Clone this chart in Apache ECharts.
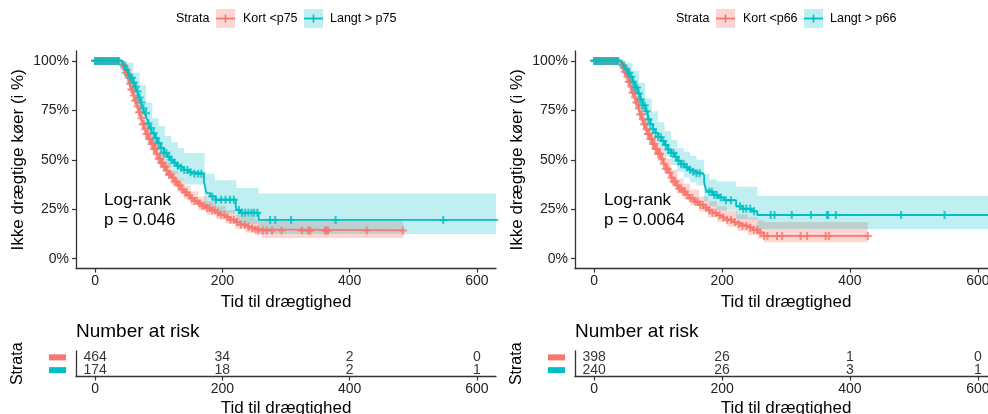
<!DOCTYPE html>
<html>
<head>
<meta charset="utf-8">
<script src="https://cdn.jsdelivr.net/npm/echarts@6/dist/echarts.min.js"></script>
<style>
  html, body { margin: 0; padding: 0; background: #fff; }
  #chart { width: 988px; height: 414px; }
</style>
</head>
<body>
<div id="chart"></div>
<script>
// ---- axis ticks ----
const xTicks = [0, 200, 400, 600];
const yTicks = [0, 0.25, 0.5, 0.75, 1];

// ---- Panel A: Kort <p75 / Langt > p75 (Kaplan-Meier steps) ----
const kort75Time = [0, 38, 42, 45, 48, 51, 54, 57, 60, 63,
  66, 69, 72, 75, 78, 81, 84, 88, 92, 96,
  100, 104, 108, 112, 116, 120, 125, 130, 135, 140,
  145, 150, 156, 162, 168, 175, 182, 189, 196, 204,
  212, 220, 228, 236, 244, 252, 262, 484];
const kort75Surv = [1, 0.995, 0.98, 0.965, 0.94, 0.915, 0.885, 0.855, 0.825, 0.8,
  0.77, 0.74, 0.71, 0.68, 0.655, 0.63, 0.605, 0.58, 0.555, 0.53,
  0.505, 0.485, 0.465, 0.445, 0.425, 0.41, 0.39, 0.37, 0.35, 0.335,
  0.32, 0.305, 0.292, 0.28, 0.268, 0.256, 0.245, 0.234, 0.222, 0.21,
  0.197, 0.185, 0.172, 0.162, 0.154, 0.148, 0.143, 0.143];
const kort75BandTime = [0, 40, 48, 56, 64, 72, 80, 90, 100, 110,
  120, 130, 140, 150, 162, 175, 190, 205, 220, 236,
  252, 262, 484];
const kort75Lower = [1, 0.975, 0.92, 0.84, 0.76, 0.68, 0.6, 0.535, 0.47, 0.42,
  0.375, 0.335, 0.3, 0.27, 0.245, 0.222, 0.2, 0.178, 0.152, 0.132,
  0.118, 0.105, 0.105];
const kort75Upper = [1, 1, 0.965, 0.89, 0.82, 0.745, 0.67, 0.6, 0.54, 0.49,
  0.445, 0.405, 0.37, 0.34, 0.315, 0.29, 0.268, 0.245, 0.225, 0.21,
  0.2, 0.19, 0.19];
const kort75Censor = [0, 2, 4, 6, 8, 10, 12, 14, 16, 18, 20, 22, 24, 26, 28, 30, 32, 34, 36,
  44, 46, 48, 50, 53, 55, 57, 59, 61, 63, 65, 67, 69, 71, 73, 75, 77, 79, 81, 83,
  85, 87, 89, 91, 93, 95, 97, 100, 102, 104, 106, 108, 110, 113, 116, 119, 122,
  125, 128, 131, 134, 137, 141, 144, 148, 152, 156, 160, 164, 168, 172, 176, 180,
  184, 188, 193, 198, 203, 208, 213, 218, 223, 229, 235, 241, 247, 252, 256,
  264, 270, 278, 293, 325, 335, 338, 361, 364, 366, 427, 484];

const langt75Time = [0, 42, 45, 48, 52, 55, 59, 63, 66, 69,
  72, 75, 78, 81, 84, 87, 90, 94, 98, 103,
  108, 113, 118, 123, 128, 134, 140, 148, 155, 171,
  173, 175, 181, 189, 221, 223, 228, 257, 640];
const langt75Surv = [1, 0.99, 0.975, 0.955, 0.93, 0.915, 0.89, 0.87, 0.845, 0.815,
  0.79, 0.76, 0.735, 0.71, 0.685, 0.66, 0.635, 0.61, 0.585, 0.56,
  0.535, 0.515, 0.5, 0.485, 0.47, 0.46, 0.448, 0.437, 0.43, 0.39,
  0.36, 0.332, 0.315, 0.298, 0.262, 0.246, 0.232, 0.196, 0.196];
const langt75BandTime = [0, 42, 50, 60, 70, 80, 90, 100, 110, 120,
  130, 140, 172, 188, 222, 257, 640];
const langt75Lower = [1, 0.97, 0.89, 0.82, 0.74, 0.66, 0.56, 0.5, 0.46, 0.43,
  0.4, 0.375, 0.26, 0.23, 0.175, 0.125, 0.125];
const langt75Upper = [1, 1, 0.99, 0.94, 0.88, 0.79, 0.71, 0.67, 0.62, 0.59,
  0.56, 0.535, 0.43, 0.397, 0.357, 0.33, 0.33];
const langt75Censor = [0, 3, 6, 9, 12, 15, 18, 21, 24, 27, 30, 33, 36, 38,
  46, 49, 52, 55, 58, 61, 64, 67, 70, 73, 76, 80, 84, 88, 92, 96, 100, 104, 108,
  112, 116, 120, 125, 130, 135, 140, 145, 150, 156, 162, 167, 184, 190, 198, 205,
  212, 218, 226, 231, 236, 241, 246, 250, 255,
  275, 283, 308, 378, 547];

// ---- Panel B: Kort <p66 / Langt > p66 ----
const kort66Time = [0, 38, 42, 45, 48, 51, 54, 57, 60, 63,
  66, 69, 72, 75, 78, 81, 84, 88, 92, 96,
  100, 104, 108, 112, 116, 120, 124, 128, 133, 138,
  144, 150, 157, 164, 171, 178, 185, 192, 200, 208,
  216, 224, 232, 240, 248, 256, 265, 428];
const kort66Surv = [1, 0.995, 0.98, 0.965, 0.945, 0.92, 0.895, 0.87, 0.84, 0.815,
  0.79, 0.76, 0.73, 0.705, 0.68, 0.655, 0.63, 0.605, 0.58, 0.555,
  0.53, 0.505, 0.48, 0.455, 0.435, 0.41, 0.39, 0.37, 0.355, 0.34,
  0.322, 0.305, 0.288, 0.272, 0.258, 0.245, 0.232, 0.22, 0.208, 0.197,
  0.186, 0.176, 0.166, 0.157, 0.146, 0.132, 0.115, 0.115];
const kort66BandTime = [0, 40, 48, 56, 64, 72, 80, 90, 100, 110,
  120, 130, 140, 150, 164, 178, 192, 208, 224, 240,
  256, 265, 428];
const kort66Lower = [1, 0.975, 0.91, 0.84, 0.77, 0.695, 0.63, 0.555, 0.49, 0.43,
  0.375, 0.33, 0.3, 0.27, 0.24, 0.21, 0.185, 0.162, 0.14, 0.12,
  0.1, 0.083, 0.083];
const kort66Upper = [1, 1, 0.97, 0.9, 0.83, 0.765, 0.7, 0.625, 0.565, 0.505,
  0.45, 0.405, 0.38, 0.35, 0.315, 0.29, 0.265, 0.243, 0.225, 0.208,
  0.195, 0.185, 0.185];
const kort66Censor = [0, 2, 4, 6, 8, 10, 12, 14, 16, 18, 20, 22, 24, 26, 28, 30, 32, 34, 36,
  44, 46, 48, 50, 52, 54, 56, 58, 60, 62, 64, 66, 68, 70, 72, 74, 76, 78, 80, 82,
  84, 86, 88, 90, 92, 94, 96, 98, 100, 103, 106, 109, 112, 115, 118, 121, 124,
  127, 130, 133, 136, 139, 142, 146, 150, 154, 158, 162, 166, 170, 175, 180, 185,
  190, 196, 202, 208, 214, 220, 226, 232, 238, 244, 250, 255, 260,
  266, 271, 286, 294, 323, 333, 362, 367, 428];

const langt66Time = [0, 42, 45, 48, 52, 56, 60, 64, 68, 72,
  76, 80, 84, 88, 92, 96, 100, 105, 110, 115,
  120, 125, 130, 136, 142, 148, 154, 160, 168, 172,
  175, 178, 186, 194, 203, 222, 232, 246, 255, 640];
const langt66Surv = [1, 0.99, 0.975, 0.96, 0.94, 0.92, 0.895, 0.865, 0.835, 0.805,
  0.775, 0.745, 0.705, 0.68, 0.655, 0.635, 0.615, 0.595, 0.575, 0.552,
  0.535, 0.515, 0.495, 0.478, 0.462, 0.45, 0.44, 0.432, 0.423, 0.385,
  0.345, 0.338, 0.322, 0.31, 0.296, 0.265, 0.252, 0.24, 0.221, 0.221];
const langt66BandTime = [0, 42, 50, 60, 70, 80, 90, 100, 110, 120,
  130, 140, 150, 160, 172, 180, 192, 222, 255, 640];
const langt66Lower = [1, 0.97, 0.905, 0.85, 0.78, 0.7, 0.63, 0.565, 0.515, 0.475,
  0.44, 0.41, 0.385, 0.37, 0.29, 0.265, 0.245, 0.2, 0.15, 0.15];
const langt66Upper = [1, 1, 0.99, 0.95, 0.89, 0.81, 0.745, 0.69, 0.645, 0.6,
  0.56, 0.54, 0.52, 0.5, 0.43, 0.4, 0.39, 0.364, 0.318, 0.318];
const langt66Censor = [0, 3, 6, 9, 12, 15, 18, 21, 24, 27, 30, 33, 36, 38,
  46, 49, 52, 55, 58, 61, 64, 67, 70, 73, 76, 79, 82, 85, 88, 92, 96, 100, 104,
  108, 112, 116, 120, 124, 128, 132, 136, 140, 145, 150, 155, 160, 165, 180, 184,
  188, 192, 198, 206, 214, 228, 233, 238, 244, 250,
  276, 282, 309, 339, 364, 366, 378, 480, 548];

// ---- Number at risk ----
const riskTime = [0, 200, 400, 600];
const risk75Kort = [464, 34, 2, 0];
const risk75Langt = [174, 18, 2, 1];
const risk66Kort = [398, 26, 1, 0];
const risk66Langt = [240, 26, 3, 1];

const pval75 = 'p = 0.046';
const pval66 = 'p = 0.0064';

// ---- styling ----
const FONT = '"Liberation Sans", Arial, Helvetica, sans-serif';
const RED = '#F8766D';
const TEAL = '#00BFC4';
const RED_BAND = 'rgba(248,118,109,0.3)';
const TEAL_BAND = 'rgba(0,191,196,0.25)';
const AXIS = '#333333';
const PLUS = 'path://M2.6,0H4.4V2.6H7V4.4H4.4V7H2.6V4.4H0V2.6H2.6Z';

function survAt(times, surv, t) {
  let v = surv[0];
  for (let i = 0; i < times.length; i++) {
    if (times[i] <= t) v = surv[i]; else break;
  }
  return v;
}

function bandSeries(xi, times, lo, hi, fill) {
  return {
    type: 'custom', xAxisIndex: xi, yAxisIndex: xi, clip: true, silent: true,
    data: [[0, 0]],
    renderItem: function (params, api) {
      const pts = [];
      for (let i = 0; i < times.length - 1; i++) {
        pts.push(api.coord([times[i], hi[i]]), api.coord([times[i + 1], hi[i]]));
      }
      for (let i = times.length - 2; i >= 0; i--) {
        pts.push(api.coord([times[i + 1], lo[i]]), api.coord([times[i], lo[i]]));
      }
      return { type: 'polygon', shape: { points: pts }, style: { fill: fill } };
    }
  };
}

function lineSeries(xi, times, surv, color) {
  return {
    type: 'line', xAxisIndex: xi, yAxisIndex: xi, step: 'end', clip: true, silent: true,
    symbol: 'none', data: times.map((t, i) => [t, surv[i]]),
    lineStyle: { color: color, width: 1.8 }, itemStyle: { color: color }
  };
}

function censorSeries(xi, times, surv, censor, color) {
  return {
    type: 'scatter', xAxisIndex: xi, yAxisIndex: xi, clip: true, silent: true,
    symbol: PLUS, symbolSize: 8,
    data: censor.map(t => [t, survAt(times, surv, t)]),
    itemStyle: { color: color }
  };
}

function riskSeries(xi, row, counts) {
  return {
    type: 'scatter', xAxisIndex: xi, yAxisIndex: xi, silent: true,
    symbolSize: 1, itemStyle: { color: 'rgba(0,0,0,0)' },
    data: riskTime.map((t, i) => [t, row, counts[i]]),
    label: {
      show: true, position: 'inside', formatter: p => String(p.value[2]),
      fontFamily: FONT, fontSize: 14, color: '#000'
    }
  };
}

function mainX(gi) {
  return {
    type: 'value', gridIndex: gi, min: -30, max: 630,
    axisLine: { show: true, onZero: false, lineStyle: { color: AXIS, width: 1.3 } },
    axisTick: { show: true, customValues: xTicks, length: 4, lineStyle: { color: AXIS, width: 1.2 } },
    axisLabel: { customValues: xTicks, fontFamily: FONT, fontSize: 14, color: '#222', margin: 6 },
    splitLine: { show: false },
    name: 'Tid til drægtighed', nameLocation: 'middle', nameGap: 22,
    nameTextStyle: { fontFamily: FONT, fontSize: 17, color: '#000' }
  };
}
function mainY(gi) {
  return {
    type: 'value', gridIndex: gi, min: -0.05, max: 1.05,
    axisLine: { show: true, onZero: false, lineStyle: { color: AXIS, width: 1.3 } },
    axisTick: { show: true, customValues: yTicks, length: 4, lineStyle: { color: AXIS, width: 1.2 } },
    axisLabel: {
      customValues: yTicks, fontFamily: FONT, fontSize: 14, color: '#222', margin: 7,
      formatter: v => Math.round(v * 100) + '%'
    },
    splitLine: { show: false },
    name: 'Ikke drægtige køer (i %)', nameLocation: 'middle', nameGap: 49,
    nameTextStyle: { fontFamily: FONT, fontSize: 17, color: '#000' }
  };
}
function riskX(gi) {
  const a = mainX(gi);
  a.nameGap = 23;
  return a;
}
function riskY(gi) {
  return {
    type: 'category', gridIndex: gi, data: ['Langt', 'Kort'],
    axisLine: { show: true, onZero: false, lineStyle: { color: AXIS, width: 1.3 } },
    axisTick: { show: false },
    axisLabel: {
      margin: 10, interval: 0, hideOverlap: false, lineHeight: 6,
      formatter: v => (v === 'Kort' ? '{r|}' : '{t|}'),
      rich: {
        r: { width: 17, height: 6, lineHeight: 6, backgroundColor: RED },
        t: { width: 17, height: 6, lineHeight: 6, backgroundColor: TEAL }
      }
    },
    splitLine: { show: false },
    name: 'Strata', nameLocation: 'middle', nameGap: 50,
    nameTextStyle: { fontFamily: FONT, fontSize: 16, color: '#000' }
  };
}

function legendGraphics(dx, kortLabel, langtLabel) {
  const g = [];
  const txt = (x, text) => ({
    type: 'text', x: x + dx, y: 19,
    style: { text: text, font: '12.5px ' + FONT, fill: '#000', textVerticalAlign: 'middle' }
  });
  const key = (x, color, band) => {
    const cx = x + 9.5, cy = 18.5;
    g.push({ type: 'rect', shape: { x: x + dx, y: 9, width: 19, height: 19 }, style: { fill: band } });
    g.push({ type: 'line', shape: { x1: x + dx, y1: cy, x2: x + 19 + dx, y2: cy }, style: { stroke: color, lineWidth: 1.8 } });
    g.push({ type: 'line', shape: { x1: cx + dx, y1: cy - 4, x2: cx + dx, y2: cy + 4 }, style: { stroke: color, lineWidth: 1.6 } });
  };
  g.push(txt(176, 'Strata'));
  key(216, RED, RED_BAND);
  g.push(txt(243, kortLabel));
  key(304, TEAL, TEAL_BAND);
  g.push(txt(330, langtLabel));
  return g;
}

function panelTexts(dx, pval) {
  return [
    { type: 'text', x: 104 + dx, y: 200, style: { text: 'Log-rank', font: '17px ' + FONT, fill: '#000', textVerticalAlign: 'middle' } },
    { type: 'text', x: 104 + dx, y: 220, style: { text: pval, font: '17px ' + FONT, fill: '#000', textVerticalAlign: 'middle' } },
    { type: 'text', x: 76 + dx - (dx ? 1 : 0), y: 332, style: { text: 'Number at risk', font: '19px ' + FONT, fill: '#000', textVerticalAlign: 'middle' } }
  ];
}

const chart = echarts.init(document.getElementById('chart'), null, { renderer: 'canvas' });
chart.setOption({
  animation: false,
  backgroundColor: '#ffffff',
  grid: [
    { left: 76, top: 51, width: 420, height: 217.6, outerBoundsMode: 'none', containLabel: false },
    { left: 76, top: 351, width: 420, height: 25.5, outerBoundsMode: 'none', containLabel: false },
    { left: 575, top: 51, width: 422, height: 217.6, outerBoundsMode: 'none', containLabel: false },
    { left: 575, top: 351, width: 422, height: 25.5, outerBoundsMode: 'none', containLabel: false }
  ],
  xAxis: [mainX(0), riskX(1), mainX(2), riskX(3)],
  yAxis: [mainY(0), riskY(1), mainY(2), riskY(3)],
  graphic: [].concat(
    legendGraphics(0, 'Kort <p75', 'Langt > p75'),
    legendGraphics(500, 'Kort <p66', 'Langt > p66'),
    panelTexts(0, pval75),
    panelTexts(500, pval66)
  ),
  series: [
    bandSeries(0, kort75BandTime, kort75Lower, kort75Upper, RED_BAND),
    bandSeries(0, langt75BandTime, langt75Lower, langt75Upper, TEAL_BAND),
    lineSeries(0, kort75Time, kort75Surv, RED),
    lineSeries(0, langt75Time, langt75Surv, TEAL),
    censorSeries(0, kort75Time, kort75Surv, kort75Censor, RED),
    censorSeries(0, langt75Time, langt75Surv, langt75Censor, TEAL),
    riskSeries(1, 'Kort', risk75Kort),
    riskSeries(1, 'Langt', risk75Langt),

    bandSeries(2, kort66BandTime, kort66Lower, kort66Upper, RED_BAND),
    bandSeries(2, langt66BandTime, langt66Lower, langt66Upper, TEAL_BAND),
    lineSeries(2, kort66Time, kort66Surv, RED),
    lineSeries(2, langt66Time, langt66Surv, TEAL),
    censorSeries(2, kort66Time, kort66Surv, kort66Censor, RED),
    censorSeries(2, langt66Time, langt66Surv, langt66Censor, TEAL),
    riskSeries(3, 'Kort', risk66Kort),
    riskSeries(3, 'Langt', risk66Langt)
  ]
});
</script>
</body>
</html>
